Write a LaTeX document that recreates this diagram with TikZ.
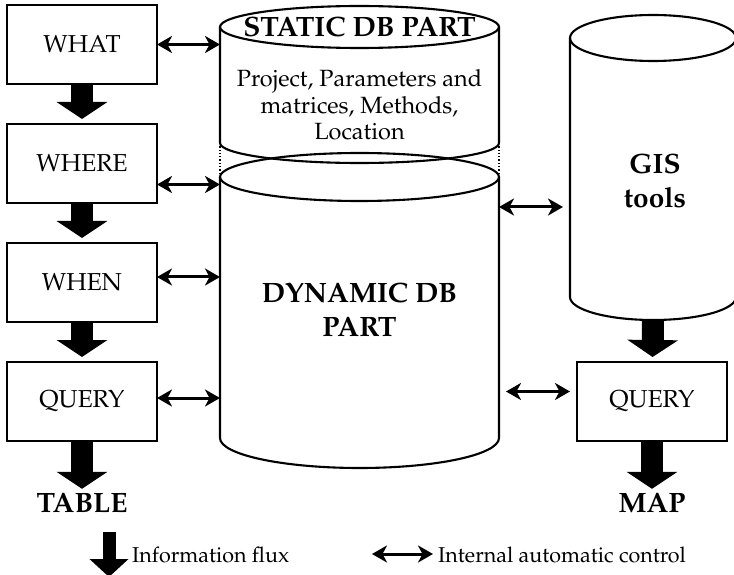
\documentclass[tikz,border=0pt]{standalone}
\usepackage[T1]{fontenc}
\usepackage{mathpazo}
\usepackage{tikz}
\usetikzlibrary{arrows.meta,positioning,calc}

\begin{document}
\begin{tikzpicture}[x=1pt, y=1pt,
    querybox/.style={draw=black, line width=1.2pt, minimum width=150pt, minimum height=79pt, inner sep=0pt, outer sep=0pt, font=\fontsize{24.5}{29}\selectfont},
    dbbody/.style={inner sep=0pt, outer sep=0pt},
    dbline/.style={line width=2.1pt},
    biglabel/.style={font=\fontsize{28}{34}\selectfont\bfseries, align=center, inner sep=0pt},
    bodytext/.style={font=\fontsize{23.5}{26.5}\selectfont, align=center, inner sep=0pt},
    legendtext/.style={font=\fontsize{21.5}{26}\selectfont, inner sep=0pt, anchor=west},
    flux/.style={-{Triangle[width=50pt, length=17pt]}, line width=22pt, shorten >=5pt},
    legendflux/.style={-{Triangle[width=38pt, length=18pt]}, line width=13pt},
    control/.style={{Stealth[length=15pt, width=17pt, inset=4.5pt]}-{Stealth[length=15pt, width=17pt, inset=4.5pt]}, line width=3pt}
]
\useasboundingbox (0,0) rectangle (734,574);

\node[querybox] (what) at (82,529.5) {WHAT};
\node[querybox, below=40pt of what] (where) {WHERE};
\node[querybox, below=40pt of where] (when) {WHEN};
\node[querybox, below=40pt of when] (query) {QUERY};
\node[biglabel] (table) at (82,71) {TABLE};

\draw[flux] (what) -- (where);
\draw[flux] (where) -- (when);
\draw[flux] (when) -- (query);
\draw[flux, shorten >=4pt] (query) -- (table);

\node[dbbody, minimum width=279pt, minimum height=116pt] (static) at (359.5,489) {};
\draw[dbline] (static.north) ellipse [x radius=139.5, y radius=21];
\draw[dbline] (static.north west) -- (static.south west) arc [start angle=180, end angle=360, x radius=139.5, y radius=20] -- (static.north east);
\node[biglabel] (statictitle) at (static.north) {STATIC DB PART};
\node[bodytext] (staticinfo) at (359.5,469) {Project, Parameters and\\matrices, Methods,\\Location};

\node[dbbody, minimum width=279pt, minimum height=261pt] (dyn) at (359.5,266.5) {};
\draw[dbline] (dyn.north) ellipse [x radius=139.5, y radius=24];
\draw[dbline] (dyn.north west) -- (dyn.south west) arc [start angle=180, end angle=360, x radius=139.5, y radius=30] -- (dyn.north east);
\node[biglabel] (dyntext) at (359.5,264) {DYNAMIC DB\\PART};
\draw[dotted, line width=1.3pt] (static.south west) -- (dyn.north west);
\draw[dotted, line width=1.3pt] (static.south east) -- (dyn.north east);

\node[dbbody, minimum width=166pt, minimum height=259pt] (gis) at (653,406.5) {};
\draw[dbline] (gis.north) ellipse [x radius=83, y radius=23];
\draw[dbline] (gis.north west) -- (gis.south west) arc [start angle=180, end angle=360, x radius=83, y radius=23] -- (gis.north east);
\node[biglabel] (gistext) at (655,393) {GIS\\tools};
\coordinate (gisbase) at ($(gis.south)+(0,-23)$);

\node[querybox] (gisquery) at (652,172.5) {QUERY};
\node[biglabel] (map) at (652,71) {MAP};
\draw[flux] (gisbase) -- (gisquery);
\draw[flux, shorten >=4pt] (gisquery) -- (map);

\draw[control] (what.east) -- (what.east -| static.west);
\draw[control] ([yshift=-21pt]where.east) coordinate (c2) -- (c2 -| dyn.west);
\draw[control] ([yshift=5.5pt]when.east) coordinate (c3) -- (c3 -| dyn.west);
\draw[control] ([yshift=3.5pt]query.east) coordinate (c4) -- (c4 -| dyn.west);
\draw[control, shorten >=7pt] (dyn.east |- 0,367) coordinate (c5) -- (c5 -| gis.west);
\draw[control, shorten <=7pt, shorten >=7pt] ([yshift=10pt]gisquery.west) coordinate (c6) -- (c6 -| dyn.east);

\node[legendtext] (fluxtext) at (132,19) {Information flux};
\coordinate (fluxtop) at (109,42);
\coordinate (fluxtip) at (109,-3);
\draw[legendflux] (fluxtop) -- (fluxtip);
\node[legendtext] (ctrltext) at (438,19) {Internal automatic control};
\draw[control] ([xshift=-66pt,yshift=1pt]ctrltext.west) -- ([xshift=-5pt,yshift=1pt]ctrltext.west);

\end{tikzpicture}
\end{document}
